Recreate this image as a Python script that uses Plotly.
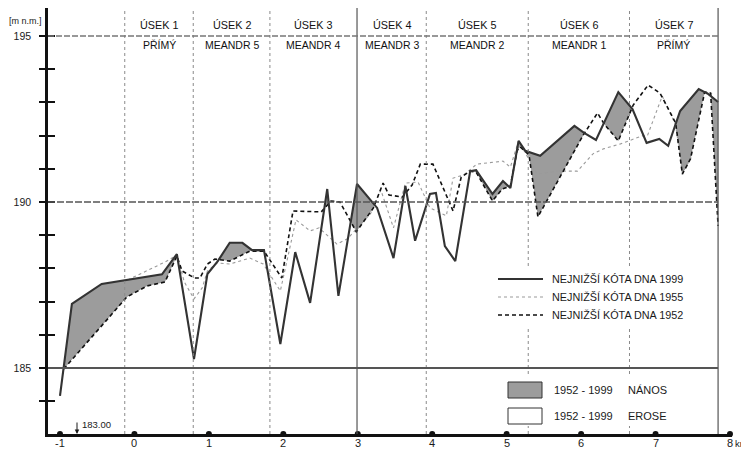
import numpy as np
import plotly.graph_objects as go

# ---------------- data (km, m n.m.) ----------------
km_1999 = [-1.00, -0.84, -0.44, -0.06, 0.37, 0.57, 0.80, 0.98, 1.12, 1.28, 1.45, 1.58, 1.74, 1.96,
           2.16, 2.36, 2.59, 2.74, 2.99, 3.26, 3.48, 3.64, 3.77, 3.97, 4.05, 4.17, 4.31, 4.51,
           4.59, 4.81, 4.95, 5.05, 5.16, 5.25, 5.45, 5.91, 6.04, 6.20, 6.50, 6.69, 6.88, 7.05,
           7.17, 7.33, 7.44, 7.58, 7.71, 7.84]
elev_1999 = [184.16, 186.93, 187.53, 187.67, 187.82, 188.43, 185.27, 187.83, 188.22, 188.77, 188.77,
             188.55, 188.55, 185.72, 188.49, 186.96, 190.39, 187.17, 190.54, 189.82, 188.31, 190.48,
             188.83, 190.24, 190.27, 188.67, 188.22, 190.93, 190.96, 190.24, 190.63, 190.42, 191.84,
             191.54, 191.39, 192.29, 192.08, 191.87, 193.31, 192.80, 191.78, 191.90, 191.69, 192.74,
             193.04, 193.40, 193.25, 193.01]

km_1955 = [-0.09, 0.41, 0.57, 0.67, 0.80, 0.91, 0.98, 1.11, 1.28, 1.55, 1.73, 1.96, 2.17, 2.36,
           2.48, 2.72, 2.86, 3.17, 3.31, 3.48, 3.64, 3.81, 3.97, 4.19, 4.28, 4.42, 4.60, 4.95,
           5.05, 5.16, 5.41, 5.68, 5.95, 6.16, 6.30, 6.53, 6.82, 6.89, 7.09, 7.27, 7.36, 7.47,
           7.64, 7.76]
elev_1955 = [187.65, 188.19, 188.40, 187.59, 187.08, 187.41, 187.92, 188.16, 188.13, 188.31, 188.13,
             187.32, 189.46, 189.13, 189.22, 188.73, 188.89, 189.64, 190.36, 189.22, 190.57, 190.60,
             189.82, 189.58, 190.72, 190.81, 191.14, 191.23, 191.05, 191.84, 190.84, 190.93, 190.93,
             191.45, 191.60, 191.75, 191.99, 191.99, 193.19, 192.32, 190.87, 191.30, 193.34, 193.25]

km_1952 = [-0.95, -0.10, 0.17, 0.41, 0.57, 0.64, 0.81, 0.88, 0.98, 1.08, 1.28, 1.55, 1.74, 1.98,
           2.13, 2.51, 2.64, 2.76, 2.90, 2.98, 3.21, 3.34, 3.42, 3.60, 3.73, 3.84, 4.01, 4.28,
           4.39, 4.51, 4.59, 4.81, 4.94, 5.05, 5.14, 5.18, 5.30, 5.42, 6.03, 6.22, 6.31, 6.50,
           6.70, 6.90, 7.06, 7.27, 7.36, 7.47, 7.66, 7.74, 7.84]
elev_1952 = [184.97, 187.14, 187.47, 187.59, 188.37, 187.92, 187.71, 187.71, 188.13, 188.28, 188.22,
             188.52, 188.52, 187.71, 189.73, 189.70, 190.03, 190.00, 189.43, 189.10, 189.82, 190.57,
             190.21, 190.15, 190.51, 191.14, 191.14, 189.73, 190.75, 190.93, 190.90, 190.03, 190.39,
             190.48, 191.54, 191.66, 191.42, 189.55, 192.02, 192.68, 192.35, 191.84, 192.92, 193.52,
             193.28, 192.38, 190.84, 191.30, 193.31, 193.28, 189.28]

section_bounds_km = [-0.13, 0.79, 1.82, 2.99, 3.92, 5.29, 6.65, 7.84]
section_names = ["ÚSEK 1", "ÚSEK 2", "ÚSEK 3", "ÚSEK 4", "ÚSEK 5", "ÚSEK 6", "ÚSEK 7"]
section_types = ["PŘÍMÝ", "MEANDR 5", "MEANDR 4", "MEANDR 3", "MEANDR 2", "MEANDR 1", "PŘÍMÝ"]

x_tick_vals = [-1, 0, 1, 2, 3, 4, 5, 6, 7, 8]
x_tick_text = ["-1", "0", "1", "2", "3", "4", "5", "6", "7", "8"]
y_tick_vals = list(range(184, 196))
y_label_vals = [185, 190, 195]
ref_levels = [185, 190, 195]

legend_line_labels = ["NEJNIŽŠÍ KÓTA DNA 1999", "NEJNIŽŠÍ KÓTA DNA 1955", "NEJNIŽŠÍ KÓTA DNA 1952"]
fill_period = "1952 - 1999"
fill_labels = ["NÁNOS", "EROSE"]
base_label = "183.00"
unit_label = "[m n.m.]"
km_unit = "km"

# ---------------- geometry (page pixels; the page body adds an 8 px offset) ----------------
OFF = 8
W, H = 749 - OFF, 453 - OFF
PL, PR, PT, PB = 48, 732, 8, 434          # plot area on the page
X0, X1 = -1.161, 8.027
Y0, Y1 = 183.01, 195.843


def px_x(px):
    return X0 + (px - PL) / (PR - PL) * (X1 - X0)


def py_y(py):
    return Y1 - (py - PT) / (PB - PT) * (Y1 - Y0)


def paper_x(px):
    return (px - PL) / (PR - PL)


def paper_y(py):
    return (PB - py) / (PB - PT)


FONT = "Liberation Sans, Arial, sans-serif"
INK = "#1a1a1a"

# ---------------- deposition fill (1999 above 1952) ----------------
xa, ya = np.array(km_1999), np.array(elev_1999)
xb, yb = np.array(km_1952), np.array(elev_1952)
lo, hi = max(xa[0], xb[0]), min(xa[-1], xb[-1])
grid = np.union1d(xa, xb)
grid = grid[(grid >= lo) & (grid <= hi)]
ga = np.interp(grid, xa, ya)
gb = np.interp(grid, xb, yb)
fx, fa, fb = [grid[0]], [ga[0]], [gb[0]]
for i in range(len(grid) - 1):
    d0, d1 = ga[i] - gb[i], ga[i + 1] - gb[i + 1]
    if d0 * d1 < 0:
        t = d0 / (d0 - d1)
        xc = grid[i] + t * (grid[i + 1] - grid[i])
        yc = gb[i] + t * (gb[i + 1] - gb[i])
        fx.append(xc); fa.append(yc); fb.append(yc)
    fx.append(grid[i + 1]); fa.append(ga[i + 1]); fb.append(gb[i + 1])
f_upper = np.maximum(np.array(fa), np.array(fb))
f_lower = np.array(fb)

GREY_FILL = "#9c9c9c"

fig = go.Figure()
fig.add_trace(go.Scatter(x=fx, y=f_lower, mode="lines", line=dict(width=0, color=GREY_FILL),
                         hoverinfo="skip", showlegend=False))
fig.add_trace(go.Scatter(x=fx, y=f_upper, mode="lines", line=dict(width=0, color=GREY_FILL),
                         fill="tonexty", fillcolor=GREY_FILL, hoverinfo="skip", showlegend=False))

fig.add_trace(go.Scatter(x=km_1955, y=elev_1955, mode="lines",
                         line=dict(color="#9a9a9a", width=1.1, dash="dot"), showlegend=False))
fig.add_trace(go.Scatter(x=km_1952, y=elev_1952, mode="lines",
                         line=dict(color="#111111", width=1.6, dash="4px,3px"), showlegend=False))
fig.add_trace(go.Scatter(x=km_1999, y=elev_1999, mode="lines",
                         line=dict(color="#333333", width=2.1), showlegend=False))

# axis dots
fig.add_trace(go.Scatter(x=x_tick_vals, y=[Y0] * len(x_tick_vals), mode="markers",
                         marker=dict(color="#111", size=6), cliponaxis=False,
                         hoverinfo="skip", showlegend=False))
# dummy trace for inner ticks axis
fig.add_trace(go.Scatter(x=[X0], y=[190], yaxis="y2", mode="markers",
                         marker=dict(opacity=0), hoverinfo="skip", showlegend=False))

shapes = []
# vertical section dividers
for b in section_bounds_km:
    strong = b in (section_bounds_km[3], section_bounds_km[-1])
    shapes.append(dict(type="line", xref="x", yref="y", x0=b, x1=b, y0=Y0, y1=Y1, layer="above",
                       line=dict(color="#555" if strong else "#8a8a8a",
                                 width=1.2 if strong else 1, dash="solid" if strong else "dot")))
# horizontal reference levels
lvl_style = {185: dict(color="#555", width=2.0, dash="solid"),
             190: dict(color="#555", width=1.6, dash="7px,2px"),
             195: dict(color="#777", width=1.3, dash="6px,2px")}
for lv in ref_levels:
    shapes.append(dict(type="line", xref="x", yref="y", x0=X0, x1=section_bounds_km[-1], y0=lv, y1=lv,
                       layer="above", line=lvl_style[lv]))

# legend backgrounds
shapes.append(dict(type="rect", xref="x", yref="y", x0=px_x(494), x1=px_x(702), y0=py_y(326), y1=py_y(268),
                   fillcolor="white", line=dict(width=0), layer="above"))
shapes.append(dict(type="rect", xref="x", yref="y", x0=px_x(500), x1=px_x(702), y0=py_y(426), y1=py_y(376),
                   fillcolor="white", line=dict(width=0), layer="above"))
# legend line samples
legend_rows = [279, 297, 315]
legend_styles = [dict(color="#333333", width=2.1, dash="solid"),
                 dict(color="#9a9a9a", width=1.1, dash="dot"),
                 dict(color="#111", width=1.6, dash="4px,3px")]
for ry, st in zip(legend_rows, legend_styles):
    shapes.append(dict(type="line", xref="x", yref="y", x0=px_x(498), x1=px_x(543), y0=py_y(ry), y1=py_y(ry),
                       layer="above", line=st))
# fill legend boxes
shapes.append(dict(type="rect", xref="x", yref="y", x0=px_x(508), x1=px_x(542), y0=py_y(398), y1=py_y(382),
                   fillcolor=GREY_FILL, line=dict(color="#333", width=1), layer="above"))
shapes.append(dict(type="rect", xref="x", yref="y", x0=px_x(508), x1=px_x(542), y0=py_y(424), y1=py_y(408),
                   fillcolor="white", line=dict(color="#333", width=1), layer="above"))

annotations = []
# section headers
for i in range(len(section_names)):
    cx = (section_bounds_km[i] + section_bounds_km[i + 1]) / 2
    annotations.append(dict(x=cx, y=py_y(25), xref="x", yref="y", text=section_names[i], showarrow=False,
                            font=dict(family=FONT, size=10.8, color="#111"), xanchor="center", yanchor="middle"))
    annotations.append(dict(x=cx, y=py_y(45), xref="x", yref="y", text=section_types[i], showarrow=False,
                            font=dict(family=FONT, size=10.5, color="#111"), xanchor="center", yanchor="middle"))
# line legend texts
for ry, lab in zip(legend_rows, legend_line_labels):
    annotations.append(dict(x=px_x(550), y=py_y(ry), xref="x", yref="y", text=lab, showarrow=False,
                            font=dict(family=FONT, size=10.8, color=INK), xanchor="left", yanchor="middle"))
# fill legend texts
for ry, lab in zip([390, 416], fill_labels):
    annotations.append(dict(x=px_x(552), y=py_y(ry), xref="x", yref="y", text=fill_period, showarrow=False,
                            font=dict(family=FONT, size=11, color=INK), xanchor="left", yanchor="middle"))
    annotations.append(dict(x=px_x(626), y=py_y(ry), xref="x", yref="y", text=lab, showarrow=False,
                            font=dict(family=FONT, size=11, color=INK), xanchor="left", yanchor="middle"))
# unit label (top-left, in the margin)
annotations.append(dict(x=paper_x(25), y=paper_y(21), xref="paper", yref="paper", text=unit_label,
                        showarrow=False, font=dict(family=FONT, size=9, color=INK),
                        xanchor="center", yanchor="middle"))
# x tick labels (placed just below the axis line)
for v, t in zip(x_tick_vals, x_tick_text):
    annotations.append(dict(x=v, y=paper_y(443), xref="x", yref="paper", text=t, showarrow=False,
                            font=dict(family=FONT, size=11, color=INK), xanchor="center", yanchor="middle"))
annotations.append(dict(x=paper_x(733), y=paper_y(443), xref="paper", yref="paper", text=km_unit,
                        showarrow=False, font=dict(family=FONT, size=9.5, color=INK),
                        xanchor="left", yanchor="middle"))
# base level marker
annotations.append(dict(x=px_x(77), y=Y0, xref="x", yref="y", ax=0, ay=-13, text="", showarrow=True,
                        arrowhead=2, arrowsize=0.9, arrowwidth=1, arrowcolor=INK))
annotations.append(dict(x=px_x(80), y=py_y(424), xref="x", yref="y", text=base_label, showarrow=False,
                        font=dict(family=FONT, size=9.5, color=INK), xanchor="left", yanchor="middle"))

fig.update_layout(
    width=W, height=H,
    margin=dict(l=PL - OFF, r=W - (PR - OFF), t=PT - OFF, b=H - (PB - OFF), pad=0),
    paper_bgcolor="white", plot_bgcolor="white",
    showlegend=False,
    font=dict(family=FONT, color=INK),
    xaxis=dict(range=[X0, X1], showgrid=False, zeroline=False, showline=True, linecolor="#111",
               linewidth=2.5, ticks="", tickvals=x_tick_vals, showticklabels=False),
    yaxis=dict(range=[Y0, Y1], showgrid=False, zeroline=False, showline=True, linecolor="#111",
               linewidth=2.5, ticks="outside", ticklen=6, tickwidth=2, tickcolor="#111",
               tickvals=y_tick_vals,
               ticktext=[str(v) if v in y_label_vals else "" for v in y_tick_vals],
               tickfont=dict(family=FONT, size=10.5, color=INK), ticklabelstandoff=6),
    yaxis2=dict(range=[Y0, Y1], overlaying="y", side="left", anchor="x", showgrid=False, zeroline=False,
                showline=False, ticks="inside", ticklen=7, tickwidth=2, tickcolor="#111",
                tickvals=y_tick_vals, showticklabels=False),
    shapes=shapes,
    annotations=annotations,
)

fig.write_html("out.html")
